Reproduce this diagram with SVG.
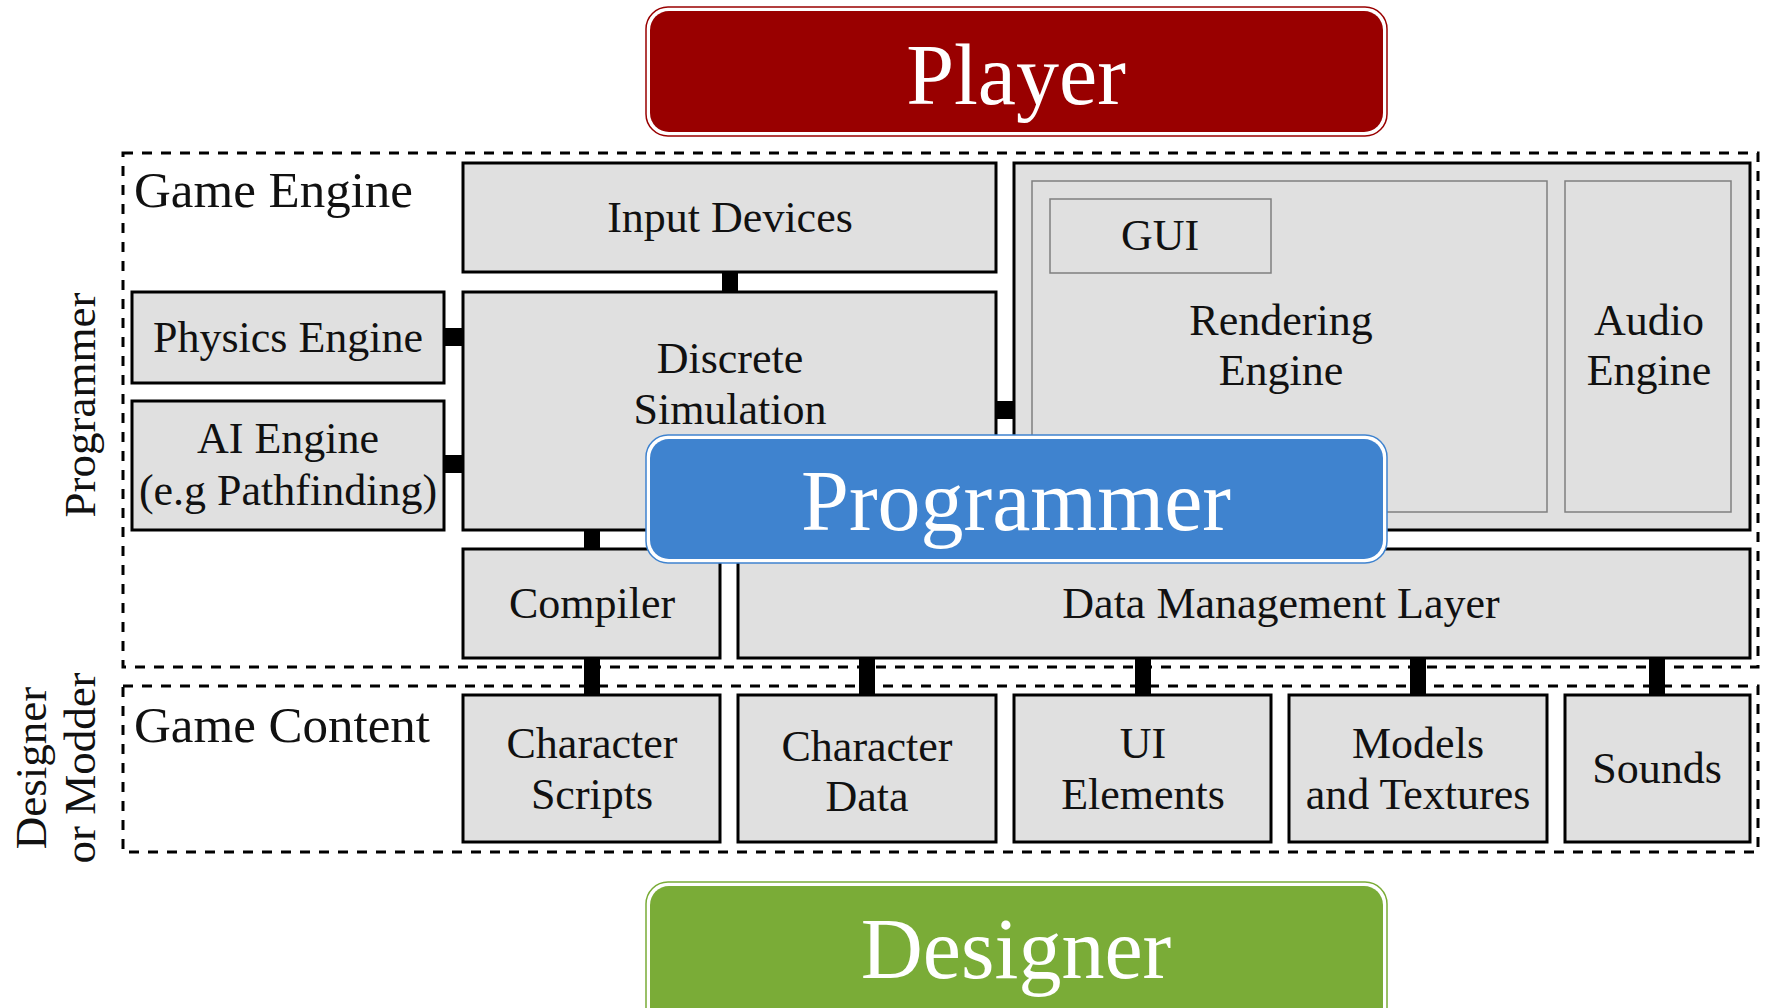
<svg xmlns="http://www.w3.org/2000/svg" width="1767" height="1008" viewBox="0 0 1767 1008">
<style>
.box{fill:#e0e0e0;stroke:#000;stroke-width:3}
.inner{fill:#e0e0e0;stroke:#7f7f7f;stroke-width:1.5}
.dash{fill:none;stroke:#000;stroke-width:3;stroke-dasharray:10 9}
.t{font-family:"Liberation Serif","Times New Roman",serif;font-size:44px;fill:#111;text-anchor:middle}
.lbl{font-family:"Liberation Serif","Times New Roman",serif;font-size:51px;fill:#111}
.vt{font-family:"Liberation Serif","Times New Roman",serif;font-size:45px;fill:#111;text-anchor:middle}
.big{font-family:"Liberation Serif","Times New Roman",serif;font-size:86px;fill:#fff;text-anchor:middle}
.conn{fill:#000}
</style>
<rect width="1767" height="1008" fill="#fff"/>

<g id="game-engine-region">
<rect class="dash" x="123" y="153" width="1635" height="514"/>
<text class="lbl" x="134" y="207">Game Engine</text>
</g>
<g id="game-content-region">
<rect class="dash" x="123" y="686" width="1635" height="166"/>
<text class="lbl" x="134" y="742">Game Content</text>
</g>
<g id="role-labels">
<text class="vt" transform="translate(95,405) rotate(-90)">Programmer</text>
<text class="vt" transform="translate(46,768) rotate(-90)">Designer</text>
<text class="vt" transform="translate(95,768) rotate(-90)">or Modder</text>
</g>

<g id="connectors">
<rect class="conn" x="722" y="271" width="16" height="22"/>
<rect class="conn" x="443" y="328" width="21" height="18"/>
<rect class="conn" x="443" y="455" width="21" height="18"/>
<rect class="conn" x="995" y="401" width="20" height="18"/>
<rect class="conn" x="584" y="529" width="16" height="21"/>
<rect class="conn" x="584" y="657" width="16" height="39"/>
<rect class="conn" x="859" y="657" width="16" height="39"/>
<rect class="conn" x="1135" y="657" width="16" height="39"/>
<rect class="conn" x="1410" y="657" width="16" height="39"/>
<rect class="conn" x="1649" y="657" width="16" height="39"/>
</g>

<g id="input-devices">
<rect class="box" x="463" y="163" width="533" height="109"/>
<text class="t" x="730" y="232">Input Devices</text>
</g>
<g id="physics-engine">
<rect class="box" x="132" y="292" width="312" height="91"/>
<text class="t" x="288" y="352">Physics Engine</text>
</g>
<g id="ai-engine">
<rect class="box" x="132" y="401" width="312" height="129"/>
<text class="t" x="288" y="453">AI Engine</text>
<text class="t" x="288" y="505">(e.g Pathfinding)</text>
</g>
<g id="discrete-simulation">
<rect class="box" x="463" y="292" width="533" height="238"/>
<text class="t" x="730" y="373">Discrete</text>
<text class="t" x="730" y="424">Simulation</text>
</g>
<g id="render-audio">
<rect class="box" x="1014" y="163" width="736" height="367"/>
</g>
<g id="rendering-engine">
<rect class="inner" x="1032" y="181" width="515" height="331"/>
<text class="t" x="1281" y="335">Rendering</text>
<text class="t" x="1281" y="385">Engine</text>
</g>
<g id="gui">
<rect class="inner" x="1050" y="199" width="221" height="74"/>
<text class="t" x="1160" y="250">GUI</text>
</g>
<g id="audio-engine">
<rect class="inner" x="1565" y="181" width="166" height="331"/>
<text class="t" x="1649" y="335">Audio</text>
<text class="t" x="1649" y="385">Engine</text>
</g>
<g id="compiler">
<rect class="box" x="463" y="549" width="257" height="109"/>
<text class="t" x="592" y="618">Compiler</text>
</g>
<g id="data-management-layer">
<rect class="box" x="738" y="549" width="1012" height="109"/>
<text class="t" x="1281" y="618">Data Management Layer</text>
</g>
<g id="character-scripts">
<rect class="box" x="463" y="695" width="257" height="147"/>
<text class="t" x="592" y="758">Character</text>
<text class="t" x="592" y="809">Scripts</text>
</g>
<g id="character-data">
<rect class="box" x="738" y="695" width="258" height="147"/>
<text class="t" x="867" y="761">Character</text>
<text class="t" x="867" y="811">Data</text>
</g>
<g id="ui-elements">
<rect class="box" x="1014" y="695" width="257" height="147"/>
<text class="t" x="1143" y="758">UI</text>
<text class="t" x="1143" y="809">Elements</text>
</g>
<g id="models-textures">
<rect class="box" x="1289" y="695" width="258" height="147"/>
<text class="t" x="1418" y="758">Models</text>
<text class="t" x="1418" y="809">and Textures</text>
</g>
<g id="sounds">
<rect class="box" x="1565" y="695" width="185" height="147"/>
<text class="t" x="1657" y="783">Sounds</text>
</g>

<g id="player">
<rect x="646" y="7" width="741" height="129" rx="22" fill="#fff" stroke="#990000" stroke-width="1.5"/>
<rect x="650" y="11" width="733" height="121" rx="19" fill="#990000"/>
<text class="big" x="1016" y="104">Player</text>
</g>
<g id="programmer">
<rect x="646" y="435" width="741" height="128" rx="22" fill="#fff" stroke="#3f83cf" stroke-width="1.5"/>
<rect x="650" y="439" width="733" height="120" rx="19" fill="#3f83cf"/>
<text class="big" x="1016" y="530">Programmer</text>
</g>
<g id="designer">
<rect x="646" y="882" width="741" height="150" rx="22" fill="#fff" stroke="#7aac37" stroke-width="1.5"/>
<rect x="650" y="886" width="733" height="142" rx="19" fill="#7aac37"/>
<text class="big" x="1016" y="978">Designer</text>
</g>
</svg>
